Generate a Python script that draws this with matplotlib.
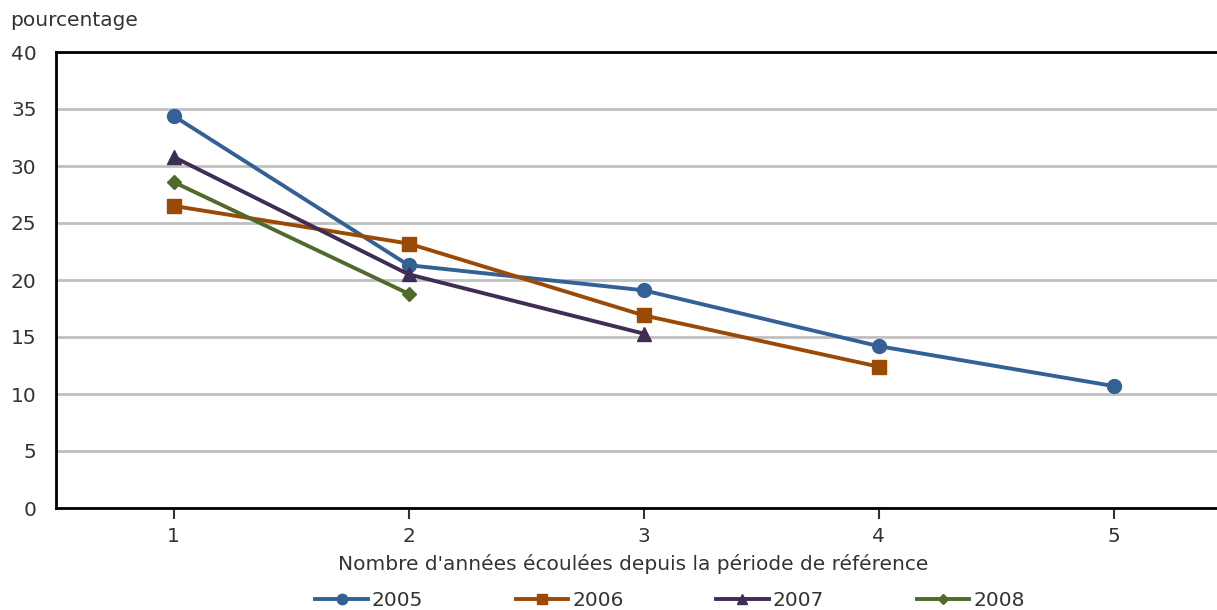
import matplotlib
matplotlib.use("Agg")
import matplotlib.pyplot as plt
from matplotlib.lines import Line2D

plt.rcParams['font.family'] = ['DejaVu Sans']

years = [1, 2, 3, 4, 5]
s2005 = [34.4, 21.3, 19.1, 14.2, 10.7]
s2006 = [26.5, 23.2, 16.9, 12.4]
s2007 = [30.8, 20.5, 15.3]
s2008 = [28.6, 18.8]

series = [
    ("2005", s2005, "#336196", "o", 10),
    ("2006", s2006, "#9a4a05", "s", 9.5),
    ("2007", s2007, "#3e2d55", "^", 10),
    ("2008", s2008, "#4f6a2b", "D", 7),
]

FS = 14.5
TXT = "#333333"

fig = plt.figure(figsize=(12.17, 6.10), dpi=100)
ax = fig.add_axes([56 / 1217, 1 - 508 / 610, (1217 - 56) / 1217, (508 - 52) / 610])

for name, vals, col, mk, ms in series:
    ax.plot(years[:len(vals)], vals, color=col, lw=2.8, marker=mk, ms=ms,
            label=name, zorder=3)

ax.set_ylim(0, 40)
ax.set_xlim(0.5, 0.5 + (1217 - 56) / 235)
ax.set_yticks(range(0, 41, 5))
ax.set_xticks(years)
ax.yaxis.grid(True, color="#c0c0c0", lw=2)
ax.set_axisbelow(True)
for side in ["left", "top", "bottom"]:
    ax.spines[side].set_color("black")
    ax.spines[side].set_linewidth(2)
ax.spines["right"].set_visible(False)
ax.tick_params(axis="y", length=0, pad=14, labelsize=FS, colors=TXT)
ax.tick_params(axis="x", length=8, width=1.5, pad=6, labelsize=FS, colors=TXT)

fig.text(10 / 1217, 1 - 20 / 610, "pourcentage", fontsize=FS, color=TXT,
         va="center", ha="left")
fig.text(633 / 1217, 1 - 564 / 610,
         "Nombre d'années écoulées depuis la période de référence",
         fontsize=FS, color=TXT, ha="center", va="center")

handles = [Line2D([], [], color=c, lw=2.8, marker=m, ms=ms * 0.75)
           for _, _, c, m, ms in series]
fig.legend(handles, [s[0] for s in series], loc="center",
           bbox_to_anchor=(670 / 1217, 1 - 601 / 610), ncol=4, frameon=False,
           fontsize=FS, handlelength=2.6, handletextpad=0.2, columnspacing=4.6,
           borderpad=0, labelcolor=TXT)

fig.savefig("out.png", dpi=100)
